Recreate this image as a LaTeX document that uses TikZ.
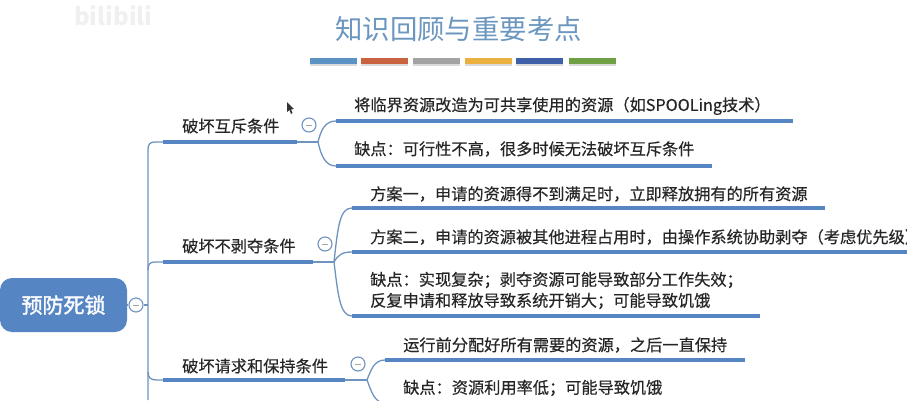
\documentclass[tikz,border=0pt]{standalone}
\usepackage{fontspec}
\setmainfont{Noto Sans CJK SC}
\newfontfamily\cjkbold[FakeBold=2]{Noto Sans CJK SC}
\newfontfamily\cjklab[FakeBold=0.35]{Noto Sans CJK SC}
\definecolor{mm}{HTML}{5585C2}
\definecolor{thin}{HTML}{6F93BF}
\definecolor{titlec}{HTML}{6B96BF}
\definecolor{txt}{HTML}{262626}
\definecolor{barA}{HTML}{5B92C4}
\definecolor{barB}{HTML}{C9623F}
\definecolor{barC}{HTML}{A3A3A3}
\definecolor{barD}{HTML}{EAB040}
\definecolor{barE}{HTML}{3F5FA8}
\definecolor{barF}{HTML}{70A044}
\usetikzlibrary{calc}
\tikzset{
  x=1pt,y=-1pt,
  rootbox/.style={fill=mm,rounded corners=12pt,minimum width=127pt,minimum height=54pt,inner sep=0pt,text=white!96!mm,font=\cjkbold\fontsize{21}{23}\selectfont},
  lab/.style={anchor=west,inner sep=0pt,text=txt,font=\cjklab\fontsize{16.2}{18}\selectfont},
  thick line/.style={draw=mm,line width=3.6pt},
  link/.style={draw=thin,line width=1.3pt},
  collapse/.style={circle,draw=thin,line width=1.1pt,fill=white,minimum size=14pt,inner sep=0pt},
  bar/.style={minimum width=47pt,minimum height=5.5pt,inner sep=0pt},
  barshadow/.style={minimum width=47pt,minimum height=4pt,inner sep=0pt,fill=black!14},
}
\newcommand{\minus}[1]{\draw[draw=gray!70,line width=.9pt] ($(#1)+(-3,0)$) -- ($(#1)+(3,0)$);}
\begin{document}
\begin{tikzpicture}
\useasboundingbox (0,0) rectangle (907,400);
\clip (0,0) rectangle (907,400);
\fill[white] (0,0) rectangle (907,400);

% watermark
\node[anchor=west,inner sep=0pt,text=black!6,font=\bfseries\fontsize{24}{26}\selectfont] (wm) at (74,16) {bilibili};

% title
\node[inner sep=0pt,text=titlec,font=\fontsize{27.4}{30}\selectfont] (title) at (458.5,29) {知识回顾与重要考点};
\foreach \x in {333.5,384.5,436.5,488.5,539.5,592.5} \node[barshadow] at (\x,64) {};
\node[bar,fill=barA] (b1) at (333.5,61) {};
\node[bar,fill=barB] (b2) at (384.5,61) {};
\node[bar,fill=barC] (b3) at (436.5,61) {};
\node[bar,fill=barD] (b4) at (488.5,61) {};
\node[bar,fill=barE] (b5) at (539.5,61) {};
\node[bar,fill=barF] (b6) at (592.5,61) {};

% root
\node[rootbox] (root) at (63.5,305) {预防死锁};
\node[collapse] (c0) at (136,305) {};
\minus{c0}

% coordinates
\coordinate (trunk) at (148,305);
\coordinate (a1) at (163,142); \coordinate (a2) at (297,142); \coordinate (f1) at (318,142);
\coordinate (b1s) at (163,262); \coordinate (b2e) at (313,262); \coordinate (f2) at (334,262);
\coordinate (c1s) at (163,380); \coordinate (c2e) at (345,380); \coordinate (f3) at (367,380);

% trunk links
\draw[link] (root.east) -- (c0.west);
\draw[link] (c0.east) -- (trunk);
\draw[link] (a1) -- (155,142) .. controls (150,142) and (148,144) .. (148,150) -- (148,400);
\draw[link] (b1s) -- (155,262) .. controls (150,262) and (148,264) .. (148,270);
\draw[link] (c1s) -- (157,380) .. controls (151,380) and (148,378) .. (148,372);
\draw[thick line] (a1) -- (a2);
\draw[thick line] (b1s) -- (b2e);
\draw[thick line] (c1s) -- (c2e);
\draw[link] (a2) -- (f1);
\draw[link] (b2e) -- (f2);
\draw[link] (c2e) -- (f3);

% level 1 labels
\node[lab] (n1) at (182,126) {破坏互斥条件};
\node[lab] (n2) at (182,246) {破坏不剥夺条件};
\node[lab] (n3) at (182,366) {破坏请求和保持条件};

% branch 1
\coordinate (s11) at (336,121); \coordinate (e11) at (793,121);
\coordinate (s12) at (336,166); \coordinate (e12) at (712,166);
\draw[link] (f1) .. controls (321,130) and (325,121) .. (s11);
\draw[link] (f1) .. controls (321,155) and (325,166) .. (s12);
\draw[thick line] (s11) -- (e11);
\draw[thick line] (s12) -- (e12);
\node[lab] (t11) at (354,106) {将临界资源改造为可共享使用的资源（如SPOOLing技术）};
\node[lab] (t12) at (354,149) {缺点：可行性不高，很多时候无法破坏互斥条件};
\node[collapse] (c1) at (309,125) {};
\minus{c1}

% branch 2
\coordinate (s21) at (352,208); \coordinate (e21) at (825,208);
\coordinate (s22) at (352,252); \coordinate (e22) at (907,252);
\coordinate (s23) at (352,316); \coordinate (e23) at (760,316);
\draw[link] (f2) .. controls (338,225) and (340,208) .. (s21);
\draw[link] (f2) .. controls (338,255) and (342,252) .. (s22);
\draw[link] (f2) .. controls (338,295) and (340,316) .. (s23);
\draw[thick line] (s21) -- (e21);
\draw[thick line] (s22) -- (e22);
\draw[thick line] (s23) -- (e23);
\node[lab] (t21) at (370,194) {方案一，申请的资源得不到满足时，立即释放拥有的所有资源};
\node[lab] (t22) at (370,237) {方案二，申请的资源被其他进程占用时，由操作系统协助剥夺（考虑优先级）};
\node[lab] (t23) at (370,280) {缺点：实现复杂；剥夺资源可能导致部分工作失效；};
\node[lab] (t24) at (370,301) {反复申请和释放导致系统开销大；可能导致饥饿};
\node[collapse] (c2) at (325,244) {};
\minus{c2}

% branch 3
\coordinate (s31) at (385,360); \coordinate (e31) at (745,360);
\coordinate (s32) at (385,403); \coordinate (e32) at (690,403);
\draw[link] (f3) .. controls (371,370) and (374,360) .. (s31);
\draw[link] (f3) .. controls (371,390) and (374,403) .. (s32);
\draw[thick line] (s31) -- (e31);
\draw[thick line] (s32) -- (e32);
\node[lab] (t31) at (403,345) {运行前分配好所有需要的资源，之后一直保持};
\node[lab] (t32) at (403,388) {缺点：资源利用率低；可能导致饥饿};
\node[collapse] (c3) at (358,364) {};
\minus{c3}

% mouse pointer
\fill[black!80] (287,102) -- (287,112) -- (289.5,110) -- (291,114) -- (292.5,113) -- (291,109.5) -- (294,109) -- cycle;
\end{tikzpicture}
\end{document}
